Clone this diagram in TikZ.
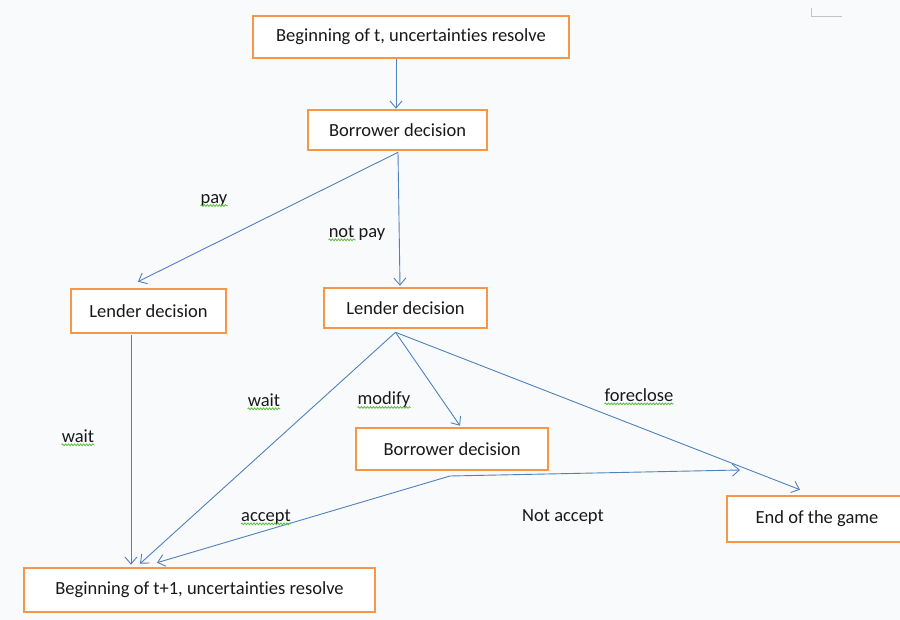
\documentclass[tikz,border=0pt]{standalone}
\usepackage{fontspec}
\setmainfont[Ligatures={NoCommon}]{Carlito}
\usetikzlibrary{arrows.meta,decorations.pathmorphing}
\definecolor{boxorange}{RGB}{247,150,70}
\definecolor{arrblue}{RGB}{79,129,189}
\definecolor{bgcol}{RGB}{249,250,252}
\definecolor{txt}{RGB}{25,25,25}
\definecolor{squig}{RGB}{90,190,60}
\tikzset{
  stepbox/.style={draw=boxorange, line width=2.6pt, fill=white, text=txt,
    inner sep=0pt, font=\fontsize{18.5}{22}\selectfont},
  arr/.style={draw=arrblue, line width=0.9pt,
    -{Straight Barb[length=7pt,width=12pt,line width=0.9pt]}},
  lbl/.style={inner sep=0pt, text=txt, font=\fontsize{18.5}{22}\selectfont},
  squigline/.style={draw=squig, line width=0.8pt,
    decorate, decoration={snake, amplitude=0.9pt, segment length=3pt}}
}
\begin{document}
\begin{tikzpicture}[x=1pt,y=-1pt]
\fill[bgcol] (0,0) rectangle (900,620);
\useasboundingbox (0,0) rectangle (900,620);
% corner mark
\draw[draw={rgb,255:red,195;green,195;blue,195}, line width=1pt] (811,8) -- (811,17) -- (842,17);

% boxes
\node[stepbox, minimum width=316pt, minimum height=42pt] (A) at (411,37) {Beginning of t, uncertainties resolve};
\node[stepbox, minimum width=179pt, minimum height=40pt] (B) at (397.5,130) {Borrower decision};
\node[stepbox, minimum width=155pt, minimum height=44pt] (C) at (148.5,311) {Lender decision};
\node[stepbox, minimum width=163pt, minimum height=40pt] (D) at (405.5,308) {Lender decision};
\node[stepbox, minimum width=192pt, minimum height=42pt] (E) at (452,449) {Borrower decision};
\node[stepbox, minimum width=180pt, minimum height=46pt] (F) at (817,519) {End of the game};
\node[stepbox, minimum width=351pt, minimum height=44pt] (G) at (199.5,590) {Beginning of t+1, uncertainties resolve};

% connectors
\draw[arr] ([xshift=-15pt]A.south) -- ([xshift=-1.5pt]B.north);
\draw[arr] ([xshift=0.5pt,yshift=-1pt]B.south) -- ([xshift=-10.5pt,yshift=6pt]C.north);
\draw[arr] ([xshift=0.5pt,yshift=-1pt]B.south) -- ([xshift=-5.5pt,yshift=1pt]D.north);
\draw[arr] ([xshift=-17.5pt,yshift=-1pt]C.south) -- ([xshift=-68.5pt,yshift=2pt]G.north);
\draw[arr] ([xshift=-10pt,yshift=-3pt]D.south) -- ([xshift=-59.5pt,yshift=3pt]G.north);
\draw[arr] ([xshift=-10pt,yshift=-3pt]D.south) -- ([xshift=8pt,yshift=1pt]E.north);
\draw[arr] ([xshift=-10pt,yshift=-3pt]D.south) -- ([xshift=-17pt,yshift=5pt]F.north);
\coordinate (split) at (450,476);
\coordinate (na) at (740,470);
\draw[arr] (split) -- ([xshift=-42.5pt,yshift=4pt]G.north);
\draw[arr] (split) -- (na);

% labels
\node[lbl] (lpay) at (214,200) {pay};
\node[lbl] (lnotpay) at (357,233) {not pay};
\node[lbl] (lwait1) at (78,436) {wait};
\node[lbl] (lwait2) at (264,400) {wait};
\node[lbl] (lmodify) at (384,400) {modify};
\node[lbl] (lforeclose) at (639,395) {foreclose};
\node[lbl] (laccept) at (266,517) {accept};
\node[lbl] (lnotaccept) at (563,517) {Not accept};

% spell-check squiggles
\draw[squigline] ([yshift=-2.5pt]lpay.base west) -- ([yshift=-2.5pt]lpay.base east);
\draw[squigline] ([yshift=-2.5pt]lnotpay.base west) -- ([xshift=27pt,yshift=-2.5pt]lnotpay.base west);
\draw[squigline] ([yshift=-2.5pt]lwait1.base west) -- ([yshift=-2.5pt]lwait1.base east);
\draw[squigline] ([yshift=-2.5pt]lwait2.base west) -- ([yshift=-2.5pt]lwait2.base east);
\draw[squigline] ([yshift=-2.5pt]lmodify.base west) -- ([yshift=-2.5pt]lmodify.base east);
\draw[squigline] ([yshift=-2.5pt]lforeclose.base west) -- ([yshift=-2.5pt]lforeclose.base east);
\draw[squigline] ([yshift=-2.5pt]laccept.base west) -- ([yshift=-2.5pt]laccept.base east);
\end{tikzpicture}
\end{document}
